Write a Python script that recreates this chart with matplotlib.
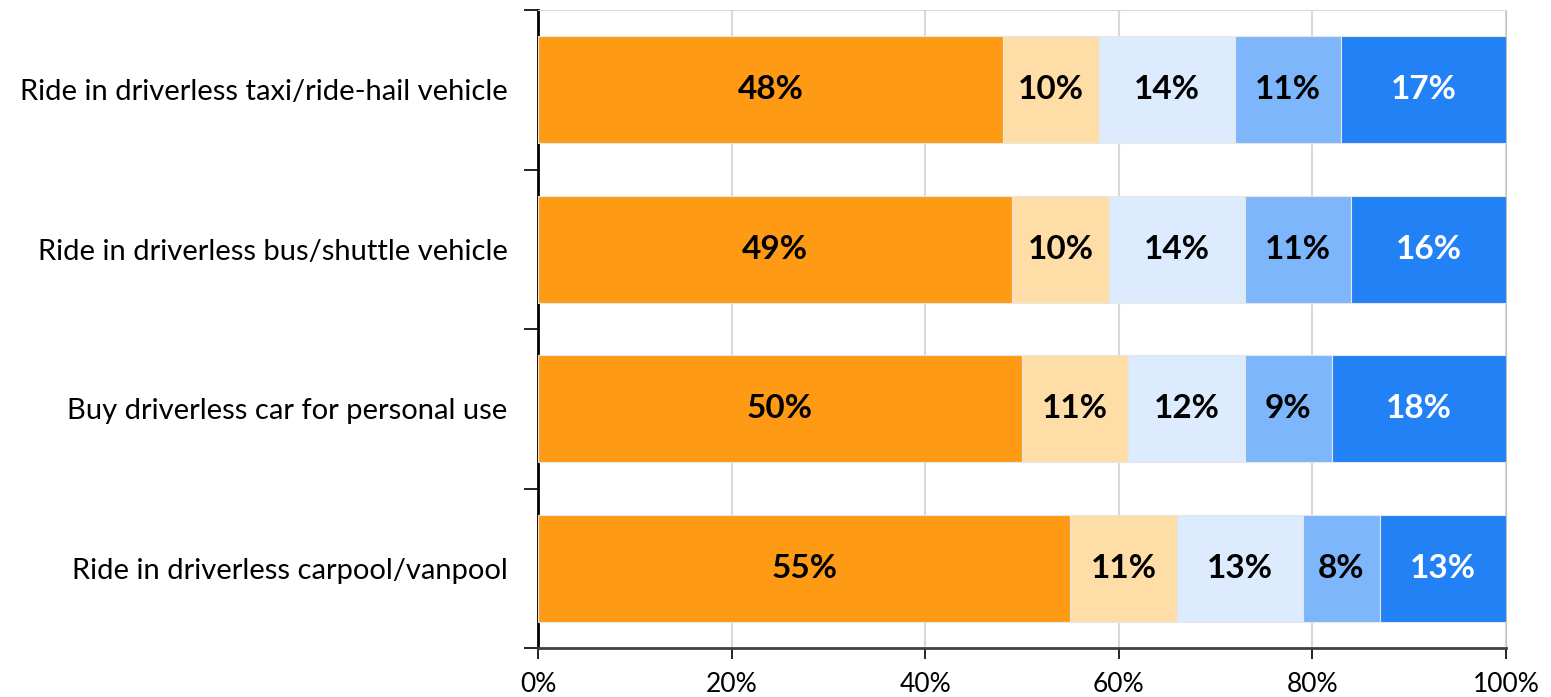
import matplotlib
matplotlib.use('Agg')
import matplotlib.pyplot as plt
import numpy as np

plt.rcParams['font.family'] = ['Lato', 'DejaVu Sans']

# survey items, top to bottom
categories = ['Ride in driverless taxi/ride-hail vehicle',
              'Ride in driverless bus/shuttle vehicle',
              'Buy driverless car for personal use',
              'Ride in driverless carpool/vanpool']

# share of answers per response level (%)
seg1 = [48, 49, 50, 55]
seg2 = [10, 10, 11, 11]
seg3 = [14, 14, 12, 13]
seg4 = [11, 11, 9, 8]
seg5 = [17, 16, 18, 13]

colors = ['#FF9A14', '#FEDEA6', '#DCEBFD', '#7DB6FB', '#2181F5']
text_colors = ['black', 'black', 'black', 'black', 'white']

fig = plt.figure(figsize=(15.51, 6.97), dpi=100)
ax = fig.add_axes([538 / 1551, 1 - 648 / 697, 968 / 1551, 638 / 697])

y = np.arange(len(categories))[::-1]
left = np.zeros(len(categories))
for vals, c, tc in zip([seg1, seg2, seg3, seg4, seg5], colors, text_colors):
    vals = np.array(vals, dtype=float)
    ax.barh(y, vals, left=left, height=0.67, color=c, edgecolor='#E6E6E6',
            linewidth=0.8, zorder=3)
    for yi, l, v in zip(y, left, vals):
        ax.text(l + v / 2, yi, '%d%%' % v, ha='center', va='center',
                fontsize=24, fontweight='bold', color=tc, zorder=4)
    left += vals

ax.set_xlim(0, 100)
ax.set_ylim(-0.5, len(categories) - 0.5)
ax.set_xticks(np.arange(0, 101, 20))
ax.set_xticklabels(['%d%%' % t for t in range(0, 101, 20)], fontsize=19)
ax.xaxis.grid(True, color='#D9D9D9', linewidth=1.5, zorder=0)

# category labels centred on bars, ticks on the boundaries
ax.set_yticks(np.arange(-0.5, len(categories), 1.0))
ax.set_yticklabels([])
ax.set_yticks(y, minor=True)
ax.set_yticklabels(categories, minor=True, fontsize=21)
ax.tick_params(axis='y', which='minor', length=0, pad=22)
ax.tick_params(axis='y', which='major', length=10, width=1.2, direction='out')
ax.tick_params(axis='x', length=8, width=1.2, direction='out', pad=9)

ax.spines['left'].set_linewidth(2)
ax.spines['left'].set_color('black')
ax.spines['bottom'].set_linewidth(2)
ax.spines['bottom'].set_color('#404040')
ax.spines['top'].set_color('#D9D9D9')
ax.spines['right'].set_color('#BFBFBF')

plt.savefig('out.png', dpi=100)
